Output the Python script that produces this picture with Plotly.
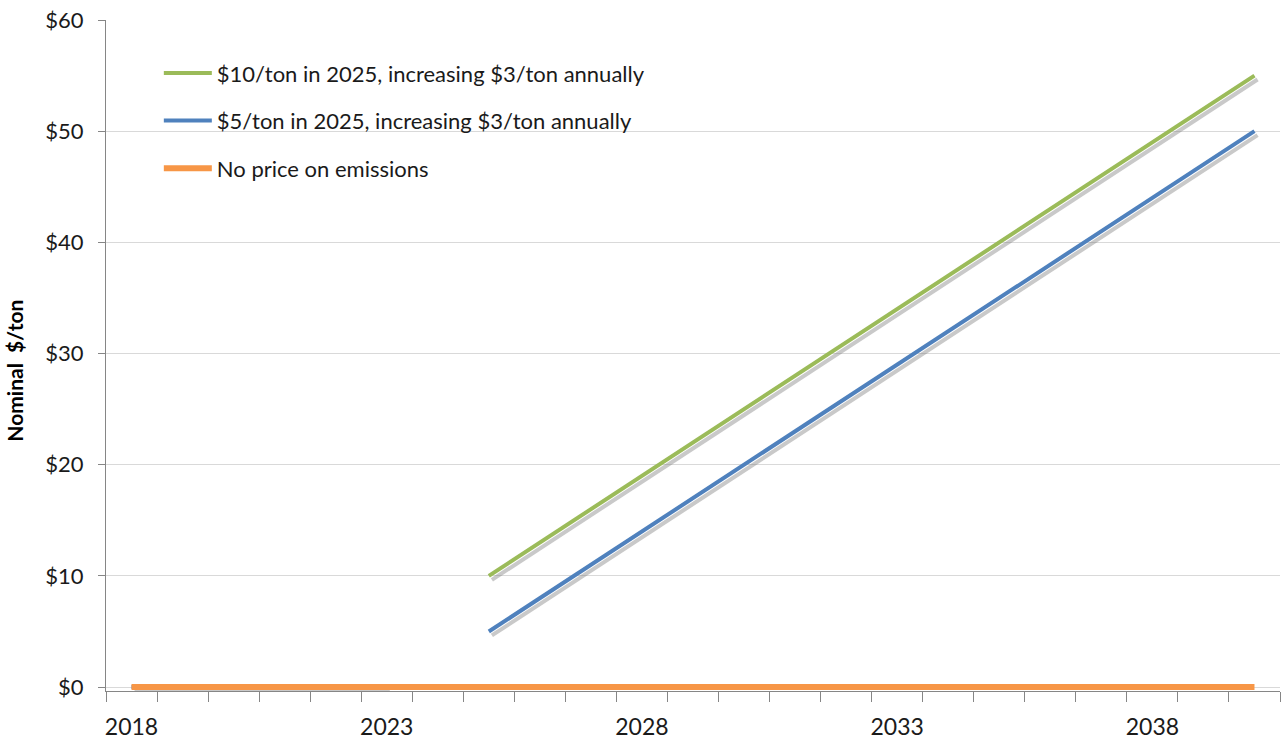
import plotly.graph_objects as go

years = list(range(2018, 2041))
green_vals = [None] * 7 + [10 + 3 * i for i in range(16)]
blue_vals = [0, 0, 0, 0, 0, 0, None] + [5 + 3 * i for i in range(16)]
orange_vals = [0] * 23

series_names = [
    "$10/ton in 2025, increasing $3/ton annually",
    "$5/ton in 2025, increasing $3/ton annually",
    "No price on emissions",
]
series_colors = ["#9BBB59", "#4F81BD", "#F79646"]
x_tick_years = [2018, 2023, 2028, 2033, 2038]
y_tick_vals = [0, 10, 20, 30, 40, 50, 60]
y_tick_text = ["$0", "$10", "$20", "$30", "$40", "$50", "$60"]
y_title = "Nominal  $/ton"

FONT = "Lato"

fig = go.Figure()

# subtle drop shadows (derived from the series data)
for vals in [blue_vals, green_vals]:
    fig.add_trace(go.Scatter(
        x=[x + 0.06 for x in years],
        y=[None if v is None else v - 0.35 for v in vals],
        mode="lines", line=dict(color="rgba(120,120,120,0.4)", width=4),
        hoverinfo="skip", showlegend=False))

order = [1, 0, 2]  # draw blue, then green, then orange on top
for i in order:
    vals = [green_vals, blue_vals, orange_vals][i]
    fig.add_trace(go.Scatter(
        x=years, y=vals, name=series_names[i], mode="lines",
        line=dict(color=series_colors[i], width=6 if i == 2 else 4),
        legendgroup=f"g{i}", legendrank=i + 1, connectgaps=False))

fig.update_layout(
    width=1282, height=741,
    margin=dict(l=106, r=2, t=20, b=50),
    paper_bgcolor="white", plot_bgcolor="white",
    font=dict(family=FONT, size=20, color="#1a1a1a"),
    showlegend=True,
    legend=dict(
        x=0.045, y=0.952, xanchor="left", yanchor="top",
        bgcolor="rgba(255,255,255,0)", font=dict(family=FONT, size=22, color="#1a1a1a"),
        tracegroupgap=16, itemwidth=48, traceorder="grouped"),
    xaxis=dict(
        range=[2017.5, 2040.5], tickmode="array", tickvals=x_tick_years,
        ticktext=[str(y) for y in x_tick_years],
        ticks="", showgrid=False, showline=True, linecolor="#868686", linewidth=1,
        tickfont=dict(family=FONT, size=23, color="#1a1a1a"),
        ticklabelstandoff=15,
        minor=dict(ticks="outside", tickmode="linear", tick0=2017.5, dtick=1,
                   ticklen=10, tickcolor="#868686", showgrid=False),
        zeroline=False,
    ),
    yaxis=dict(
        range=[-0.35, 60], tickmode="array", tickvals=y_tick_vals, ticktext=y_tick_text,
        ticks="outside", ticklen=7, tickcolor="#868686",
        showline=True, linecolor="#868686", linewidth=1,
        showgrid=True, gridcolor="#D9D9D9", gridwidth=1, zeroline=False,
        tickfont=dict(family=FONT, size=22, color="#1a1a1a"),
        ticklabelstandoff=10,
    ),
    annotations=[dict(
        text=f"<b>{y_title}</b>", textangle=-90, showarrow=False,
        xref="paper", yref="paper", x=-0.078, y=0.478,
        xanchor="center", yanchor="middle",
        font=dict(family=FONT, size=21, color="#000"))],
)

fig.write_html("out.html")
